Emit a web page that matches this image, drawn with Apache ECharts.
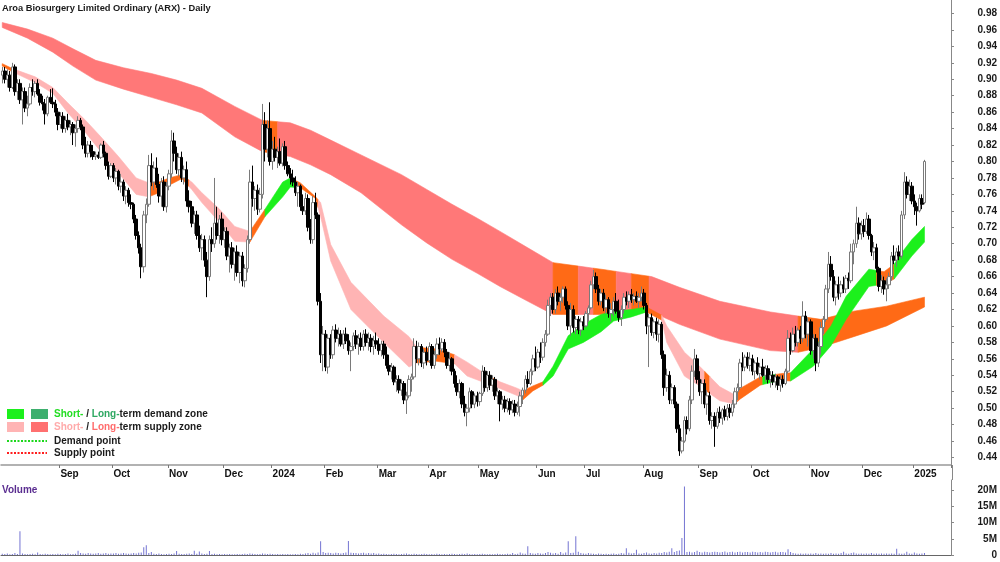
<!DOCTYPE html>
<html><head><meta charset="utf-8">
<script src="https://cdn.jsdelivr.net/npm/echarts@6/dist/echarts.min.js"></script>
<style>html,body{margin:0;padding:0;background:#fff}#c{width:1000px;height:562px}</style>
</head><body><div id="c"></div>
<script>
const chartTitle = 'Aroa Biosurgery Limited Ordinary (ARX) - Daily';
const startDate = '2023-08-01';
const endDate = '2025-01-22';
const holidays = ['2023-12-25','2023-12-26','2024-01-01','2024-01-26','2024-03-29','2024-04-01','2024-04-25','2024-06-10','2024-12-25','2024-12-26','2025-01-01'];
const monthNames = ['Jan','Feb','Mar','Apr','May','Jun','Jul','Aug','Sep','Oct','Nov','Dec'];
const priceTicks = [0.44,0.46,0.48,0.50,0.52,0.54,0.56,0.58,0.60,0.62,0.64,0.66,0.68,0.70,0.72,0.74,0.76,0.78,0.80,0.82,0.84,0.86,0.88,0.90,0.92,0.94,0.96,0.98];
const volumeTicks = [0,5,10,15,20];

// daily bars: [open, high, low, close]
const bars = [
[0.905,0.915,0.895,0.910],[0.910,0.915,0.895,0.900],[0.900,0.912,0.890,0.905],[0.905,0.910,0.885,0.890],[0.890,0.920,0.888,0.915],
[0.915,0.918,0.880,0.885],[0.885,0.900,0.875,0.895],[0.895,0.900,0.870,0.875],[0.875,0.890,0.845,0.885],[0.885,0.890,0.860,0.865],
[0.865,0.880,0.855,0.870],[0.870,0.895,0.868,0.890],[0.890,0.900,0.880,0.885],[0.885,0.898,0.878,0.895],[0.895,0.900,0.880,0.882],
[0.882,0.888,0.868,0.872],[0.872,0.880,0.862,0.870],[0.870,0.876,0.845,0.858],[0.858,0.880,0.855,0.878],[0.878,0.888,0.870,0.872],
[0.872,0.889,0.865,0.870],[0.870,0.875,0.855,0.860],[0.860,0.865,0.838,0.845],[0.845,0.860,0.840,0.855],[0.855,0.860,0.835,0.840],
[0.840,0.855,0.835,0.850],[0.850,0.858,0.838,0.842],[0.842,0.850,0.832,0.845],[0.845,0.848,0.820,0.835],[0.835,0.845,0.818,0.840],
[0.840,0.855,0.835,0.850],[0.850,0.853,0.838,0.842],[0.842,0.845,0.815,0.820],[0.820,0.830,0.805,0.810],[0.810,0.825,0.805,0.820],
[0.820,0.825,0.805,0.812],[0.812,0.820,0.802,0.806],[0.806,0.812,0.802,0.808],[0.808,0.812,0.803,0.805],[0.805,0.822,0.803,0.820],
[0.820,0.825,0.805,0.810],[0.810,0.812,0.790,0.795],[0.795,0.800,0.778,0.782],[0.782,0.798,0.780,0.795],[0.795,0.798,0.775,0.780],
[0.780,0.792,0.772,0.788],[0.788,0.790,0.765,0.770],[0.770,0.785,0.762,0.775],[0.775,0.778,0.752,0.758],[0.758,0.770,0.748,0.765],
[0.765,0.768,0.745,0.750],[0.750,0.760,0.742,0.748],[0.748,0.750,0.725,0.730],[0.730,0.735,0.705,0.710],[0.710,0.715,0.688,0.695],
[0.695,0.700,0.658,0.672],[0.672,0.740,0.665,0.735],[0.735,0.755,0.725,0.748],[0.748,0.808,0.745,0.795],[0.795,0.810,0.770,0.775],
[0.775,0.800,0.765,0.792],[0.792,0.805,0.768,0.772],[0.772,0.785,0.750,0.758],[0.758,0.780,0.745,0.775],[0.775,0.782,0.740,0.745],
[0.745,0.775,0.738,0.770],[0.770,0.790,0.765,0.785],[0.785,0.838,0.780,0.825],[0.825,0.835,0.800,0.810],[0.810,0.818,0.785,0.790],
[0.790,0.810,0.782,0.805],[0.805,0.812,0.775,0.780],[0.780,0.795,0.772,0.790],[0.790,0.800,0.745,0.752],[0.752,0.765,0.738,0.745],
[0.745,0.752,0.720,0.725],[0.725,0.740,0.712,0.735],[0.735,0.740,0.705,0.710],[0.710,0.722,0.690,0.695],[0.695,0.712,0.680,0.705],
[0.705,0.710,0.672,0.680],[0.680,0.690,0.635,0.660],[0.660,0.710,0.655,0.705],[0.705,0.720,0.690,0.700],[0.700,0.780,0.695,0.725],
[0.725,0.745,0.705,0.710],[0.710,0.735,0.700,0.730],[0.730,0.738,0.698,0.705],[0.705,0.720,0.695,0.715],[0.715,0.720,0.680,0.685],
[0.685,0.700,0.665,0.695],[0.695,0.702,0.670,0.675],[0.675,0.695,0.655,0.690],[0.690,0.698,0.660,0.665],[0.665,0.690,0.652,0.685],
[0.685,0.690,0.648,0.655],[0.655,0.675,0.647,0.670],[0.670,0.710,0.665,0.705],[0.705,0.790,0.700,0.775],[0.775,0.795,0.745,0.755],
[0.755,0.770,0.740,0.765],[0.765,0.772,0.735,0.742],[0.742,0.768,0.738,0.760],[0.760,0.870,0.755,0.845],[0.845,0.860,0.800,0.815],
[0.815,0.850,0.805,0.840],[0.840,0.872,0.795,0.800],[0.800,0.825,0.790,0.815],[0.815,0.830,0.800,0.805],[0.805,0.818,0.792,0.812],
[0.812,0.828,0.795,0.798],[0.798,0.822,0.794,0.818],[0.818,0.825,0.790,0.795],[0.795,0.800,0.782,0.785],[0.785,0.792,0.772,0.780],
[0.780,0.790,0.770,0.775],[0.775,0.782,0.758,0.762],[0.762,0.775,0.745,0.770],[0.770,0.772,0.740,0.745],[0.745,0.760,0.735,0.740],
[0.740,0.762,0.735,0.755],[0.755,0.760,0.715,0.720],[0.720,0.730,0.700,0.705],[0.705,0.758,0.700,0.750],[0.750,0.762,0.730,0.735],
[0.735,0.738,0.625,0.630],[0.630,0.640,0.555,0.565],[0.565,0.600,0.545,0.590],[0.590,0.595,0.545,0.550],[0.550,0.590,0.542,0.585],
[0.585,0.590,0.560,0.565],[0.565,0.600,0.560,0.595],[0.595,0.602,0.580,0.585],[0.585,0.598,0.575,0.590],[0.590,0.595,0.575,0.578],
[0.578,0.595,0.572,0.590],[0.590,0.598,0.578,0.582],[0.582,0.590,0.565,0.570],[0.570,0.580,0.545,0.575],[0.575,0.592,0.570,0.588],
[0.588,0.595,0.572,0.578],[0.578,0.590,0.565,0.585],[0.585,0.592,0.570,0.575],[0.575,0.595,0.570,0.590],[0.590,0.596,0.575,0.580],
[0.580,0.592,0.570,0.585],[0.585,0.590,0.568,0.575],[0.575,0.588,0.565,0.582],[0.582,0.592,0.572,0.578],[0.578,0.585,0.565,0.570],
[0.570,0.582,0.563,0.578],[0.578,0.582,0.560,0.565],[0.565,0.575,0.548,0.552],[0.552,0.565,0.540,0.545],[0.545,0.555,0.535,0.550],
[0.550,0.552,0.528,0.532],[0.532,0.540,0.520,0.535],[0.535,0.540,0.518,0.522],[0.522,0.535,0.515,0.530],[0.530,0.533,0.505,0.510],
[0.510,0.520,0.493,0.515],[0.515,0.540,0.512,0.535],[0.535,0.542,0.520,0.538],[0.538,0.585,0.535,0.575],[0.575,0.582,0.555,0.560],
[0.560,0.580,0.552,0.575],[0.575,0.578,0.550,0.555],[0.555,0.572,0.548,0.568],[0.568,0.575,0.552,0.558],[0.558,0.580,0.555,0.575],
[0.575,0.578,0.548,0.552],[0.552,0.570,0.548,0.565],[0.565,0.585,0.560,0.578],[0.578,0.586,0.565,0.572],[0.572,0.585,0.568,0.580],
[0.580,0.584,0.562,0.568],[0.568,0.572,0.548,0.552],[0.552,0.568,0.545,0.560],[0.560,0.562,0.540,0.545],[0.545,0.548,0.525,0.530],
[0.530,0.540,0.515,0.520],[0.520,0.535,0.512,0.530],[0.530,0.532,0.500,0.505],[0.505,0.515,0.490,0.495],[0.495,0.505,0.478,0.500],
[0.500,0.525,0.495,0.520],[0.520,0.522,0.500,0.505],[0.505,0.518,0.500,0.515],[0.515,0.520,0.502,0.508],[0.508,0.520,0.503,0.518],
[0.518,0.552,0.515,0.545],[0.545,0.550,0.520,0.525],[0.525,0.545,0.520,0.540],[0.540,0.545,0.522,0.528],[0.528,0.540,0.520,0.535],
[0.535,0.538,0.510,0.515],[0.515,0.525,0.505,0.520],[0.520,0.522,0.484,0.505],[0.505,0.515,0.498,0.510],[0.510,0.515,0.495,0.500],
[0.500,0.512,0.495,0.508],[0.508,0.512,0.492,0.498],[0.498,0.510,0.494,0.505],[0.505,0.510,0.490,0.495],[0.495,0.508,0.492,0.502],
[0.502,0.520,0.490,0.515],[0.515,0.525,0.505,0.522],[0.522,0.540,0.518,0.535],[0.535,0.545,0.525,0.530],[0.530,0.548,0.528,0.545],
[0.545,0.565,0.540,0.560],[0.560,0.575,0.545,0.550],[0.550,0.572,0.548,0.568],[0.568,0.580,0.555,0.562],[0.562,0.585,0.558,0.580],
[0.580,0.595,0.575,0.590],[0.590,0.632,0.588,0.625],[0.625,0.640,0.612,0.635],[0.635,0.640,0.615,0.620],[0.620,0.645,0.615,0.640],
[0.640,0.648,0.625,0.630],[0.630,0.640,0.618,0.635],[0.635,0.648,0.628,0.645],[0.645,0.648,0.620,0.625],[0.625,0.630,0.595,0.600],
[0.600,0.628,0.588,0.620],[0.620,0.625,0.592,0.598],[0.598,0.612,0.590,0.608],[0.608,0.612,0.590,0.595],[0.595,0.610,0.588,0.605],
[0.605,0.612,0.595,0.600],[0.600,0.618,0.598,0.615],[0.615,0.625,0.605,0.622],[0.622,0.655,0.620,0.650],[0.650,0.668,0.645,0.660],
[0.660,0.665,0.640,0.645],[0.645,0.650,0.625,0.630],[0.630,0.645,0.625,0.640],[0.640,0.645,0.618,0.622],[0.622,0.638,0.615,0.632],
[0.632,0.635,0.610,0.615],[0.615,0.628,0.605,0.620],[0.620,0.635,0.612,0.630],[0.630,0.640,0.615,0.618],[0.618,0.632,0.605,0.610],
[0.610,0.625,0.600,0.620],[0.620,0.640,0.615,0.635],[0.635,0.642,0.625,0.630],[0.630,0.642,0.622,0.638],[0.638,0.645,0.628,0.632],
[0.632,0.640,0.625,0.636],[0.636,0.642,0.628,0.630],[0.630,0.640,0.622,0.635],[0.635,0.648,0.630,0.640],[0.640,0.645,0.620,0.625],
[0.625,0.628,0.590,0.600],[0.600,0.615,0.550,0.610],[0.610,0.615,0.588,0.592],[0.592,0.608,0.585,0.605],[0.605,0.610,0.582,0.590],
[0.590,0.608,0.580,0.602],[0.602,0.605,0.560,0.565],[0.565,0.570,0.515,0.525],[0.525,0.548,0.520,0.540],[0.540,0.545,0.505,0.510],
[0.510,0.530,0.505,0.525],[0.525,0.528,0.500,0.505],[0.505,0.508,0.470,0.475],[0.475,0.480,0.442,0.448],[0.448,0.465,0.445,0.460],
[0.460,0.490,0.458,0.485],[0.485,0.490,0.468,0.475],[0.475,0.515,0.472,0.510],[0.510,0.552,0.505,0.545],[0.545,0.572,0.538,0.560],
[0.560,0.565,0.530,0.535],[0.535,0.545,0.515,0.520],[0.520,0.535,0.505,0.530],[0.530,0.535,0.500,0.505],[0.505,0.522,0.492,0.515],
[0.515,0.520,0.480,0.485],[0.485,0.495,0.475,0.490],[0.490,0.495,0.453,0.478],[0.478,0.500,0.475,0.495],[0.495,0.502,0.482,0.488],
[0.488,0.500,0.480,0.498],[0.498,0.503,0.485,0.490],[0.490,0.505,0.485,0.500],[0.500,0.505,0.488,0.495],[0.495,0.510,0.490,0.505],
[0.505,0.525,0.500,0.520],[0.520,0.530,0.510,0.525],[0.525,0.560,0.522,0.555],[0.555,0.568,0.545,0.550],[0.550,0.565,0.545,0.562],
[0.562,0.568,0.548,0.552],[0.552,0.568,0.545,0.560],[0.560,0.565,0.540,0.545],[0.545,0.558,0.535,0.555],[0.555,0.562,0.540,0.542],
[0.542,0.555,0.535,0.550],[0.550,0.560,0.538,0.540],[0.540,0.552,0.532,0.548],[0.548,0.552,0.530,0.535],[0.535,0.545,0.525,0.540],
[0.540,0.545,0.528,0.532],[0.532,0.542,0.525,0.538],[0.538,0.540,0.522,0.528],[0.528,0.540,0.520,0.535],[0.535,0.540,0.525,0.530],
[0.530,0.548,0.528,0.545],[0.545,0.595,0.542,0.585],[0.585,0.592,0.565,0.570],[0.570,0.598,0.568,0.590],[0.590,0.600,0.575,0.580],
[0.580,0.598,0.575,0.595],[0.595,0.600,0.578,0.585],[0.585,0.630,0.580,0.612],[0.612,0.618,0.585,0.590],[0.590,0.610,0.575,0.605],
[0.605,0.608,0.565,0.570],[0.570,0.590,0.560,0.585],[0.585,0.590,0.545,0.555],[0.555,0.580,0.550,0.575],[0.575,0.605,0.565,0.598],
[0.598,0.612,0.590,0.608],[0.608,0.650,0.605,0.645],[0.645,0.690,0.640,0.675],[0.675,0.685,0.655,0.660],[0.660,0.668,0.630,0.635],
[0.635,0.655,0.625,0.650],[0.650,0.660,0.632,0.640],[0.640,0.655,0.635,0.650],[0.650,0.660,0.640,0.645],[0.645,0.662,0.640,0.658],
[0.658,0.665,0.645,0.655],[0.655,0.700,0.652,0.690],[0.690,0.705,0.675,0.700],[0.700,0.745,0.695,0.725],[0.725,0.732,0.705,0.712],
[0.712,0.728,0.705,0.722],[0.722,0.730,0.708,0.715],[0.715,0.738,0.712,0.730],[0.730,0.735,0.705,0.710],[0.710,0.712,0.685,0.690],
[0.690,0.702,0.680,0.695],[0.695,0.700,0.665,0.670],[0.670,0.672,0.642,0.648],[0.648,0.662,0.640,0.655],[0.655,0.660,0.638,0.645],
[0.645,0.658,0.630,0.650],[0.650,0.665,0.645,0.660],[0.660,0.690,0.655,0.685],[0.685,0.698,0.675,0.680],[0.680,0.695,0.672,0.690],
[0.690,0.698,0.680,0.685],[0.685,0.740,0.682,0.735],[0.735,0.787,0.730,0.775],[0.775,0.782,0.755,0.760],[0.760,0.778,0.752,0.770],
[0.770,0.775,0.748,0.752],[0.752,0.760,0.735,0.745],[0.745,0.750,0.722,0.740],[0.740,0.760,0.738,0.755],[0.755,0.760,0.742,0.748],
[0.750,0.802,0.748,0.800]
];

// daily volume in millions of shares
const volumeM = [
0.4,0.3,0.5,0.2,0.3,0.6,0.3,7.3,0.5,0.3, 0.2,0.3,0.4,0.2,0.8,0.3,0.2,0.4,0.3,0.2,
0.3,0.2,0.4,0.3,0.2,0.3,0.5,0.2,0.3,0.4, 1.3,0.6,0.5,0.4,0.6,0.5,0.4,0.5,0.6,0.4,
0.5,0.6,0.4,0.5,0.5,0.6,0.4,0.5,0.6,0.5, 0.4,0.5,0.6,0.5,0.7,0.8,2.4,3.0,0.6,0.9,
0.4,0.3,0.5,0.3,0.2,0.3,0.4,0.3,0.5,1.2, 0.4,0.3,0.3,0.4,0.5,0.3,1.3,0.4,1.1,0.5,
0.3,0.4,1.2,0.3,0.4,0.2,0.3,0.2,0.3,0.2, 0.3,0.2,0.2,0.3,0.2,0.3,0.4,0.3,0.5,0.4,
0.3,0.2,0.3,0.5,0.4,0.3,0.4,0.3,0.2,0.3, 0.2,0.3,0.2,0.3,0.2,0.2,0.3,0.2,0.4,0.3,
0.5,0.6,0.4,0.7,0.5,0.8,4.2,0.9,0.6,0.7, 0.6,0.5,0.7,0.6,0.5,0.6,0.8,4.3,0.7,0.6,
0.6,0.5,0.6,0.7,0.5,0.6,0.5,0.6,0.4,0.5, 0.3,0.4,0.3,0.2,0.3,0.4,0.3,0.2,0.3,0.4,
0.5,0.3,0.2,0.4,0.3,0.2,0.3,0.4,0.3,0.2, 0.3,0.2,0.4,0.3,0.2,0.3,0.2,0.3,0.4,0.3,
0.2,0.3,0.4,0.3,0.5,0.3,0.2,0.3,0.2,0.3, 0.4,0.3,0.2,0.3,0.2,0.3,0.4,0.3,0.2,0.3,
0.4,0.3,0.6,0.3,0.4,0.8,0.5,0.4,2.7,0.6, 0.5,0.4,0.6,0.5,0.4,0.6,0.9,0.7,0.5,0.6,
0.4,0.9,0.5,0.8,4.2,0.6,0.7,5.8,1.0,0.6, 0.5,0.4,0.6,0.5,0.4,0.3,0.5,0.4,0.3,0.4,
0.3,0.4,0.5,0.3,0.4,0.6,0.5,2.1,0.7,0.5, 0.6,1.6,0.5,0.4,0.6,0.8,0.5,0.4,0.6,0.5,
0.7,0.6,0.9,0.8,1.0,2.1,0.9,1.2,1.4,5.2, 21.1,0.9,1.0,0.8,0.9,1.3,0.9,0.8,1.0,0.9,
0.8,0.9,1.0,0.9,0.8,0.9,1.1,0.8,0.9,1.0, 0.8,0.9,1.0,0.8,0.9,0.9,0.8,1.0,0.9,0.8,
0.9,0.8,1.0,0.9,0.8,0.9,1.0,0.8,0.9,0.9, 0.8,1.8,0.9,0.6,0.5,0.4,0.5,0.4,0.5,0.4,
0.5,0.4,0.6,0.4,0.5,0.4,0.5,0.4,0.6,0.4, 0.5,0.4,0.6,1.0,0.5,0.4,0.6,0.8,0.5,0.4,
0.5,0.4,0.5,0.4,0.6,0.4,0.5,0.4,0.5,0.4, 0.5,0.4,0.5,0.4,1.9,0.5,0.4,0.5,1.0,0.5,
0.4,0.8,0.5,0.4,0.5,0.6
];

// short-term band key points: [bar index, upper, lower]
const shortBand = [
[0,0.919,0.916],[4,0.913,0.909],[13,0.903,0.896],[20,0.890,0.883],[26,0.871,0.859],[33,0.850,0.835],
[39,0.830,0.812],[46,0.806,0.786],[53,0.780,0.760],[58,0.774,0.757],[62,0.775,0.762],[66,0.780,0.771],
[71,0.784,0.779],[75,0.775,0.766],[79,0.762,0.750],[86,0.742,0.726],[92,0.721,0.703],[98,0.715,0.702],
[104,0.742,0.733],[111,0.775,0.757],[114,0.780,0.769],[118,0.774,0.768],[124,0.757,0.755],[126,0.750,0.733],
[130,0.699,0.679],[138,0.653,0.620],[151,0.612,0.580],[161,0.587,0.550],[164,0.574,0.555],[172,0.572,0.557],
[179,0.565,0.554],[184,0.556,0.539],[191,0.542,0.531],[197,0.532,0.524],[204,0.524,0.515],[206,0.521,0.510],
[210,0.527,0.521],[214,0.532,0.528],[218,0.551,0.539],[224,0.588,0.572],[230,0.602,0.580],[237,0.614,0.593],
[242,0.618,0.606],[249,0.620,0.611],[255,0.623,0.617],[261,0.613,0.607],[263,0.600,0.580],[270,0.568,0.539],
[276,0.551,0.527],[284,0.526,0.509],[290,0.516,0.505],[292,0.524,0.511],[300,0.538,0.528],[308,0.542,0.534],
[312,0.543,0.533],[321,0.572,0.551],[328,0.600,0.576],[334,0.636,0.608],[343,0.669,0.648],[349,0.666,0.651],
[353,0.675,0.657],[356,0.689,0.669],[360,0.705,0.685],[365,0.721,0.702]
];
// long-term band key points: [bar index, upper, lower]
const longBand = [
[0,0.969,0.963],[10,0.961,0.950],[20,0.950,0.933],[28,0.937,0.916],[37,0.923,0.899],[48,0.914,0.888],[59,0.907,0.878],
[69,0.899,0.869],[79,0.889,0.859],[92,0.867,0.830],[103,0.850,0.812],[114,0.847,0.806],[122,0.838,0.796],[130,0.826,0.784],
[142,0.808,0.762],[158,0.784,0.723],[168,0.766,0.701],[178,0.748,0.681],[188,0.731,0.664],[197,0.715,0.648],[208,0.695,0.630],
[218,0.677,0.614],[237,0.669,0.614],[257,0.660,0.617],[268,0.647,0.602],[284,0.630,0.584],
[304,0.617,0.570],[315,0.612,0.568],[324,0.608,0.574],[337,0.618,0.587],[350,0.624,0.600],[365,0.635,0.623]
];
// colour segments: [from bar, to bar, zone]
const shortZones = [
[0,4,'o'],[4,58,'p'],[58,74,'o'],[74,98,'p'],[98,104,'o'],[104,116,'g'],[116,125,'o'],[125,164,'p'],
[164,179,'o'],[179,191,'p'],[191,195,'o'],[195,206,'p'],[206,214,'o'],[214,255,'g'],[255,261,'o'],
[261,278,'p'],[278,280,'o'],[280,291,'p'],[291,301,'o'],[301,306,'g'],[306,312,'o'],[312,346,'g'],
[346,353,'o'],[353,365,'g']
];
const longZones = [
[0,103,'r'],[103,109,'o'],[109,218,'r'],[218,228,'o'],[228,234,'r'],[234,243,'o'],[243,249,'r'],
[249,256,'o'],[256,315,'r'],[315,365,'o']
];
const zoneColors = {p:'#FFB4B4', r:'#FF7878', o:'#FF6A16', g:'#1CF01C'};

// ---------- build ----------
function tradingDays(){
  const out=[]; const d=new Date(startDate+'T00:00:00Z'); const end=new Date(endDate+'T00:00:00Z');
  while(d<=end){ const wd=d.getUTCDay(); const s=d.toISOString().slice(0,10);
    if(wd!==0 && wd!==6 && holidays.indexOf(s)<0) out.push(s); d.setUTCDate(d.getUTCDate()+1); }
  return out;
}
const days = tradingDays();
const monthStart = new Set();
for(let i=1;i<days.length;i++){ if(days[i].slice(0,7)!==days[i-1].slice(0,7)) monthStart.add(i); }
const isMonthStart = (i)=>monthStart.has(i);
const dateLabel = (v)=>{ const m=+v.slice(5,7); return m===1 ? v.slice(0,4) : monthNames[m-1]; };

function bandAt(keys,i){
  for(let k=0;k<keys.length-1;k++){ const a=keys[k], b=keys[k+1];
    if(i>=a[0] && i<=b[0]){ const t=(i-a[0])/(b[0]-a[0]); return [a[1]+(b[1]-a[1])*t, a[2]+(b[2]-a[2])*t]; } }
  const l=keys[keys.length-1]; return [l[1],l[2]];
}
function bandSeries(keys, zones, z){
  return {
    type:'custom', xAxisIndex:0, yAxisIndex:0, silent:true, z:z, clip:true,
    data: zones.map((s,k)=>[s[0],0.7,k]),
    encode:{x:0,y:1},
    renderItem:function(params, api){
      const seg = zones[api.value(2)];
      const s=seg[0], e=seg[1]; const col=zoneColors[seg[2]];
      const up=[], lo=[];
      const add=(i)=>{ const v=bandAt(keys,i); up.push(api.coord([i,v[0]])); lo.push(api.coord([i,v[1]])); };
      add(s); keys.forEach(k=>{ if(k[0]>s && k[0]<e) add(k[0]); }); add(e);
      return {type:'polygon', shape:{points: up.concat(lo.reverse())}, style:{fill:col, stroke:col, lineWidth:0.6}};
    }
  };
}

const FONT = 'Liberation Sans, Arial, Helvetica, sans-serif';
const FS = 10;
const chart = echarts.init(document.getElementById('c'), null, {renderer:'canvas'});
chart.setOption({
  animation:false,
  backgroundColor:'#ffffff',
  title:[
    {text:chartTitle, left:2, top:4, padding:0, textStyle:{fontSize:9.3, fontWeight:'bold', color:'#1a1a1a', fontFamily:FONT}},
    {text:'Volume', left:2, top:485, padding:0, textStyle:{fontSize:FS, fontWeight:'bold', color:'#5a2d90', fontFamily:FONT}}
  ],
  grid:[
    {left:1, right:48, top:0, height:465},
    {left:1, right:48, top:480, height:75}
  ],
  xAxis:[
    {type:'category', gridIndex:0, data:days, boundaryGap:true,
     axisLine:{show:true, lineStyle:{color:'#999999', width:1.5}},
     axisTick:{show:true, interval:isMonthStart, length:3, lineStyle:{color:'#777'}},
     axisLabel:{show:true, interval:isMonthStart, formatter:dateLabel, align:'left', margin:4,
       fontSize:FS, fontWeight:'bold', color:'#111', fontFamily:FONT},
     splitLine:{show:false}},
    {type:'category', gridIndex:1, data:days, boundaryGap:true, position:'top',
     axisLine:{show:true, lineStyle:{color:'#666666', width:1}},
     axisTick:{show:false}, axisLabel:{show:false}, splitLine:{show:false}}
  ],
  yAxis:[
    {type:'value', gridIndex:0, position:'right', min:0.4309, max:0.9964, scale:true,
     splitLine:{show:false},
     axisLine:{show:true, lineStyle:{color:'#888888'}},
     axisTick:{show:true, length:3, customValues:priceTicks, lineStyle:{color:'#888'}},
     axisLabel:{customValues:priceTicks, formatter:(v)=>v.toFixed(2), align:'right', margin:46,
       fontSize:FS, fontWeight:'bold', color:'#1a1a1a', fontFamily:FONT}},
    {type:'value', gridIndex:1, position:'right', min:0, max:23.08,
     splitLine:{show:false},
     axisLine:{show:true, lineStyle:{color:'#888888'}},
     axisTick:{show:true, length:3, customValues:volumeTicks, lineStyle:{color:'#888'}},
     axisLabel:{customValues:volumeTicks, formatter:(v)=>v===0?'0':v+'M', align:'right', margin:46,
       fontSize:FS, fontWeight:'bold', color:'#1a1a1a', fontFamily:FONT}}
  ],
  series:[
    bandSeries(longBand, longZones, 1),
    bandSeries(shortBand, shortZones, 2),
    {type:'candlestick', xAxisIndex:0, yAxisIndex:0, silent:true, z:5, barWidth:3,
     data: bars.map(b=>[b[0],b[3],b[2],b[1]]),
     itemStyle:{color:'#ffffff', color0:'#000000', borderColor:'#7a7a7a', borderColor0:'#000000', borderWidth:1}},
    {type:'bar', xAxisIndex:1, yAxisIndex:1, silent:true, barWidth:1, data:volumeM,
     itemStyle:{color:'#7474d2'}}
  ],
  graphic:[
    {type:'line', shape:{x1:952.5,y1:465,x2:952.5,y2:480}, style:{stroke:'#888', lineWidth:1}, silent:true},
    {type:'rect', shape:{x:7,y:409,width:17,height:10}, style:{fill:'#1CF01C'}, silent:true},
    {type:'rect', shape:{x:31,y:409,width:17,height:10}, style:{fill:'#3DAF6E'}, silent:true},
    {type:'rect', shape:{x:7,y:422,width:17,height:10}, style:{fill:'#FFB4B4'}, silent:true},
    {type:'rect', shape:{x:31,y:422,width:17,height:10}, style:{fill:'#FF7070'}, silent:true},
    {type:'line', shape:{x1:7,y1:441,x2:47,y2:441}, style:{stroke:'#1CD81C', lineWidth:2, lineDash:[2,1.5]}, silent:true},
    {type:'line', shape:{x1:7,y1:453,x2:47,y2:453}, style:{stroke:'#FF1E1E', lineWidth:2, lineDash:[2,1.5]}, silent:true},
    {type:'text', x:54, y:414, silent:true, style:{text:'{a|Short-}{k| / }{b|Long-}{k|term demand zone}', verticalAlign:'middle',
      rich:{a:{fill:'#22DD22',fontSize:FS,fontWeight:'bold',fontFamily:FONT}, b:{fill:'#2EA862',fontSize:FS,fontWeight:'bold',fontFamily:FONT}, k:{fill:'#1a1a1a',fontSize:FS,fontWeight:'bold',fontFamily:FONT}}}},
    {type:'text', x:54, y:427, silent:true, style:{text:'{a|Short-}{k| / }{b|Long-}{k|term supply zone}', verticalAlign:'middle',
      rich:{a:{fill:'#FFAAAA',fontSize:FS,fontWeight:'bold',fontFamily:FONT}, b:{fill:'#FF6C6C',fontSize:FS,fontWeight:'bold',fontFamily:FONT}, k:{fill:'#1a1a1a',fontSize:FS,fontWeight:'bold',fontFamily:FONT}}}},
    {type:'text', x:54, y:441, silent:true, style:{text:'Demand point', verticalAlign:'middle', fill:'#1a1a1a', fontSize:FS, fontWeight:'bold', fontFamily:FONT}},
    {type:'text', x:54, y:453, silent:true, style:{text:'Supply point', verticalAlign:'middle', fill:'#1a1a1a', fontSize:FS, fontWeight:'bold', fontFamily:FONT}}
  ]
});
</script></body></html>
